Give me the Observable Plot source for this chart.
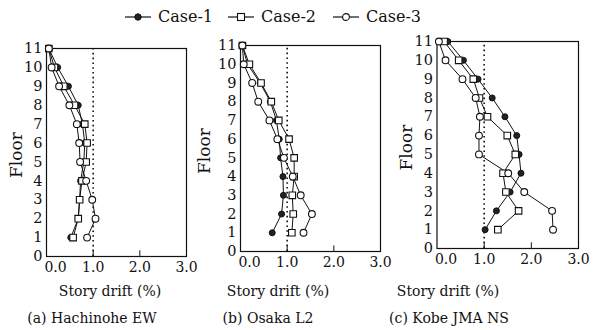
<!DOCTYPE html>
<html>
<head>
<meta charset="utf-8">
<script src="https://cdn.jsdelivr.net/npm/d3@7"></script>
<script src="https://cdn.jsdelivr.net/npm/@observablehq/plot@0.6"></script>
<style>
  html, body { margin: 0; padding: 0; background: #fff; }
  #root { position: relative; width: 593px; height: 330px; overflow: hidden; font-family: "DejaVu Serif", serif; }
  .panel { position: absolute; top: 0; }
</style>
</head>
<body>
<div id="root"></div>
<script>
const floors = [1, 2, 3, 4, 5, 6, 7, 8, 9, 10, 11];
const cases = ["Case-1", "Case-2", "Case-3"];
const xTicks = [0, 1, 2, 3];
const yTicks = [0, 1, 2, 3, 4, 5, 6, 7, 8, 9, 10, 11];

// (a) Hachinohe EW, floor 1..11
const hachCase1 = [0.52, 0.68, 0.71, 0.73, 0.80, 0.82, 0.77, 0.68, 0.47, 0.24, 0.05];
const hachCase2 = [0.57, 0.68, 0.71, 0.76, 0.85, 0.87, 0.82, 0.60, 0.37, 0.17, 0.05];
const hachCase3 = [0.87, 1.05, 0.98, 0.85, 0.72, 0.70, 0.65, 0.49, 0.27, 0.11, 0.05];
// (b) Osaka L2
const osakaCase1 = [0.68, 0.88, 0.92, 0.91, 0.86, 0.83, 0.77, 0.64, 0.42, 0.15, 0.04];
const osakaCase2 = [1.10, 1.13, 1.11, 1.15, 1.15, 1.04, 0.82, 0.66, 0.44, 0.19, 0.04];
const osakaCase3 = [1.35, 1.53, 1.29, 1.12, 0.93, 0.79, 0.62, 0.38, 0.25, 0.07, 0.04];
// (c) Kobe JMA NS
const kobeCase1 = [1.02, 1.26, 1.55, 1.78, 1.74, 1.69, 1.44, 1.17, 0.87, 0.56, 0.23];
const kobeCase2 = [1.29, 1.73, 1.46, 1.40, 1.66, 1.49, 1.07, 0.90, 0.77, 0.46, 0.15];
const kobeCase3 = [2.46, 2.44, 1.85, 1.51, 0.89, 0.89, 0.91, 0.82, 0.54, 0.18, 0.04];

const captions = ["(a) Hachinohe EW", "(b) Osaka L2", "(c) Kobe JMA NS"];

function table(c1, c2, c3) {
  const rows = [];
  [c1, c2, c3].forEach((arr, i) => arr.forEach((v, j) => rows.push({case: cases[i], floor: floors[j], drift: v})));
  return rows;
}

const panels = [
  {data: table(hachCase1, hachCase2, hachCase3), left: 0, ml: 46, mr: 14, mt: 48, plotBottom: 256, floorX: 17, capX: 92, labX: 110},
  {data: table(osakaCase1, osakaCase2, osakaCase3), left: 194, ml: 46, mr: 14, mt: 45, plotBottom: 251, floorX: 11, capX: 268 - 194, labX: 278 - 194},
  {data: table(kobeCase1, kobeCase2, kobeCase3), left: 390, ml: 46.5, mr: 12, mt: 41, plotBottom: 248, floorX: 17, capX: 449 - 390, labX: 448 - 390}
];

const root = document.getElementById("root");
const font = "DejaVu Serif, serif";

panels.forEach((p, k) => {
  const H = 330;
  const chart = Plot.plot({
    width: 200, height: H,
    marginLeft: p.ml, marginRight: p.mr, marginTop: p.mt, marginBottom: H - p.plotBottom,
    style: {fontFamily: font, background: "transparent", color: "#111", overflow: "visible"},
    x: {domain: [0, 3]},
    y: {domain: [0, 11]},
    marks: [
      Plot.frame({stroke: "#111", strokeWidth: 1.2}),
      Plot.ruleX([1], {y1: 0, y2: 11, stroke: "#111", strokeWidth: 1.6, strokeDasharray: "1.6,3.2"}),
      Plot.ruleX([1, 2], {y1: 0, y2: 0.3, stroke: "#111"}),
      Plot.axisX(xTicks.slice(1), {tickSize: 0, tickPadding: 6, tickFormat: d => d.toFixed(1), fontSize: 14, label: null}),
      Plot.axisX(xTicks.slice(0, 1), {tickSize: 0, tickPadding: 6, tickFormat: d => d.toFixed(1), fontSize: 14, label: null, dx: 9}),
      Plot.axisY(yTicks, {tickSize: 0, tickPadding: 4, fontSize: 14.5, label: null}),
      Plot.line(p.data, {x: "drift", y: "floor", z: "case", stroke: "#111", strokeWidth: 1}),
      Plot.dot(p.data.filter(d => d.case === "Case-1"), {x: "drift", y: "floor", r: 3, fill: "#222", stroke: "#111", strokeWidth: 1}),
      Plot.dot(p.data.filter(d => d.case === "Case-2"), {x: "drift", y: "floor", r: 3.7, symbol: "square", fill: "white", stroke: "#111", strokeWidth: 1.1}),
      Plot.dot(p.data.filter(d => d.case === "Case-3"), {x: "drift", y: "floor", r: 3.4, fill: "white", stroke: "#111", strokeWidth: 1.1})
    ]
  });
  chart.classList.add("panel");
  chart.style.left = p.left + "px";
  chart.style.position = "absolute";
  root.appendChild(chart);

  const svg = d3.select(chart);
  svg.append("text")
    .attr("transform", `translate(${p.floorX},${(p.mt + p.plotBottom) / 2 + 3}) rotate(-90)`)
    .attr("text-anchor", "middle").attr("dominant-baseline", "middle")
    .attr("font-family", font).attr("font-size", 17).attr("fill", "#111")
    .text("Floor");
  svg.append("text")
    .attr("x", p.labX).attr("y", 296)
    .attr("text-anchor", "middle")
    .attr("font-family", font).attr("font-size", 14).attr("fill", "#111")
    .text("Story drift (%)");
  svg.append("text")
    .attr("x", p.capX).attr("y", 323)
    .attr("text-anchor", "middle")
    .attr("font-family", font).attr("font-size", 14).attr("fill", "#111")
    .text(captions[k]);
});

// Legend
const leg = d3.select(root).append("svg")
  .attr("width", 593).attr("height", 34)
  .style("position", "absolute").style("left", "0px").style("top", "0px");
const legX = [125, 228, 333];
cases.forEach((c, i) => {
  const g = leg.append("g").attr("transform", `translate(${legX[i]},17)`);
  g.append("line").attr("x1", 0).attr("x2", 26).attr("y1", 0).attr("y2", 0).attr("stroke", "#111").attr("stroke-width", 1.2);
  if (i === 0) g.append("circle").attr("cx", 13).attr("cy", 0).attr("r", 3.2).attr("fill", "#222").attr("stroke", "#111");
  if (i === 1) g.append("rect").attr("x", 9.5).attr("y", -3.5).attr("width", 7).attr("height", 7).attr("fill", "white").attr("stroke", "#111").attr("stroke-width", 1.1);
  if (i === 2) g.append("circle").attr("cx", 13).attr("cy", 0).attr("r", 3.4).attr("fill", "white").attr("stroke", "#111").attr("stroke-width", 1.1);
  g.append("text").attr("x", 33).attr("y", 0).attr("dominant-baseline", "middle")
    .attr("font-family", font).attr("font-size", 16).attr("fill", "#111").text(c);
});
</script>
</body>
</html>
